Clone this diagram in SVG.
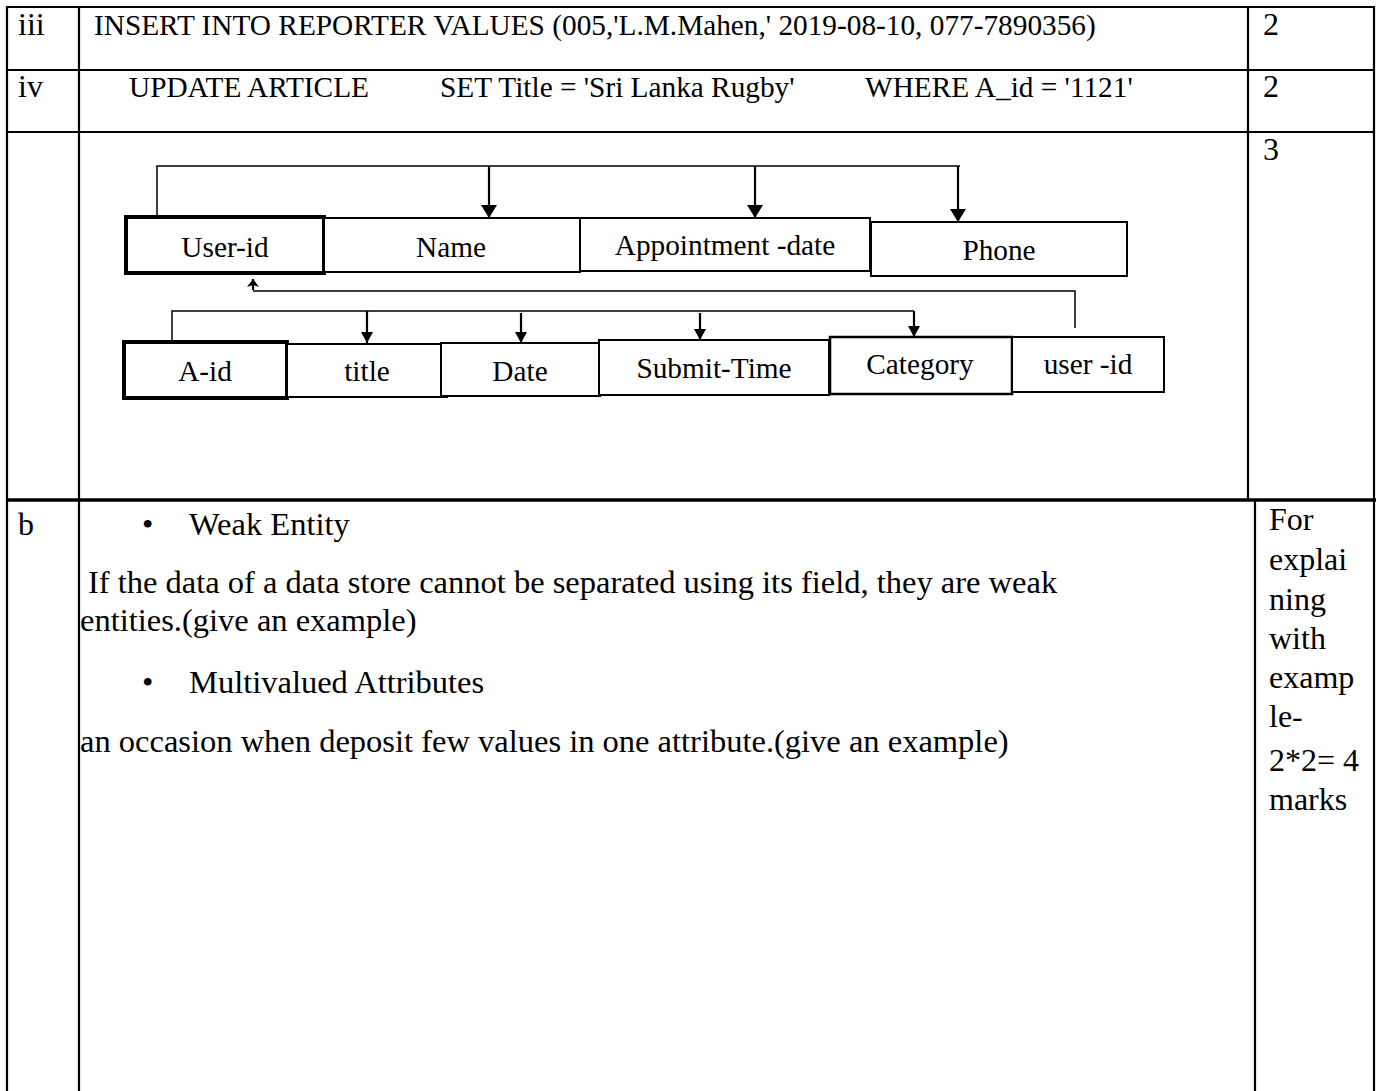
<svg xmlns="http://www.w3.org/2000/svg" width="1377" height="1091" viewBox="0 0 1377 1091">
<style>
text { font-family: "Liberation Serif", "Times New Roman", serif; fill: #000; }
.s11 { font-size: 29.3px; }
.s12 { font-size: 32px; }
.body { font-size: 32.5px; }
.grid { stroke: #000; stroke-width: 2.2; fill: none; }
.thick { stroke: #000; stroke-width: 3.5; fill: none; }
.box { fill: #fff; stroke: #000; stroke-width: 2; }
.pk { fill: #fff; stroke: #000; stroke-width: 4; }
.conn { stroke: #000; stroke-width: 1.5; fill: none; }
.arr { stroke: #000; stroke-width: 2.2; fill: none; }
.mid { text-anchor: middle; }
</style>
<defs>
<marker id="ah" viewBox="0 0 13 16" refX="13" refY="8" markerWidth="13" markerHeight="16" markerUnits="userSpaceOnUse" orient="auto">
<path d="M0,0 L13,8 L0,16 Z" fill="#000"/>
</marker>
<marker id="ah2" viewBox="0 0 11 12" refX="11" refY="6" markerWidth="11" markerHeight="12" markerUnits="userSpaceOnUse" orient="auto">
<path d="M0,0 L11,6 L0,12 Z" fill="#000"/>
</marker>
<marker id="ah3" viewBox="0 0 8 12" refX="8" refY="6" markerWidth="8" markerHeight="12" markerUnits="userSpaceOnUse" orient="auto">
<path d="M0,0 L8,6 L0,12 L2,6 Z" fill="#000"/>
</marker>
</defs>

<g id="table">
<line class="grid" x1="6" y1="7" x2="1375" y2="7"/>
<line class="grid" x1="7" y1="70" x2="1374" y2="70"/>
<line class="grid" x1="7" y1="132" x2="1374" y2="132"/>
<line class="thick" x1="6" y1="500" x2="1376" y2="500"/>
<line class="grid" x1="7" y1="6" x2="7" y2="1091"/>
<line class="grid" x1="79" y1="6" x2="79" y2="1091"/>
<line class="grid" x1="1248" y1="6" x2="1248" y2="500"/>
<line class="grid" x1="1255" y1="500" x2="1255" y2="1091"/>
<line class="grid" x1="1374" y1="6" x2="1374" y2="1091"/>
</g>

<g id="row-iii">
<text class="s12" x="18" y="35">iii</text>
<text class="s11" x="94" y="35">INSERT INTO REPORTER VALUES (005,'L.M.Mahen,' 2019-08-10, 077-7890356)</text>
<text class="s12" x="1263" y="35">2</text>
</g>
<g id="row-iv">
<text class="s12" x="18" y="97">iv</text>
<text class="s11" x="129" y="97">UPDATE ARTICLE</text>
<text class="s11" x="440" y="97">SET Title = 'Sri Lanka Rugby'</text>
<text class="s11" x="865" y="97">WHERE A_id = '1121'</text>
<text class="s12" x="1263" y="97">2</text>
</g>
<g id="row-diagram-mark">
<text class="s12" x="1263" y="160">3</text>
</g>

<g id="connectors">
<path class="conn" d="M157,216 V166 H960"/>
<line class="arr" x1="489" y1="166" x2="489" y2="218" marker-end="url(#ah)"/>
<line class="arr" x1="755" y1="166" x2="755" y2="218" marker-end="url(#ah)"/>
<line class="arr" x1="958" y1="166" x2="958" y2="222" marker-end="url(#ah)"/>
<path class="conn" d="M1075,328 V291 H253"/>
<line class="arr" x1="253" y1="290" x2="253" y2="279" marker-end="url(#ah3)"/>
<path class="conn" d="M172,342 V311 H914"/>
<line class="arr" x1="367" y1="311" x2="367" y2="343" marker-end="url(#ah2)"/>
<line class="arr" x1="521" y1="313" x2="521" y2="343" marker-end="url(#ah2)"/>
<line class="arr" x1="700" y1="313" x2="700" y2="340" marker-end="url(#ah2)"/>
<line class="arr" x1="914" y1="311" x2="914" y2="337" marker-end="url(#ah2)"/>
</g>

<g id="user-id">
<rect class="pk" x="126" y="217" width="198" height="56"/>
<text class="s11 mid" x="225" y="257">User-id</text>
</g>
<g id="name">
<rect class="box" x="324" y="218" width="256" height="54"/>
<text class="s11 mid" x="451" y="257">Name</text>
</g>
<g id="appointment-date">
<rect class="box" x="580" y="218" width="290" height="53"/>
<text class="s11 mid" x="725" y="255">Appointment -date</text>
</g>
<g id="phone">
<rect class="box" x="871" y="222" width="256" height="54"/>
<text class="s11 mid" x="999" y="260">Phone</text>
</g>

<g id="a-id">
<rect class="pk" x="124" y="342" width="163" height="56"/>
<text class="s11 mid" x="205" y="381">A-id</text>
</g>
<g id="title">
<rect class="box" x="287" y="344" width="160" height="53"/>
<text class="s11 mid" x="367" y="381">title</text>
</g>
<g id="date">
<rect class="box" x="441" y="343" width="159" height="53"/>
<text class="s11 mid" x="520" y="381">Date</text>
</g>
<g id="submit-time">
<rect class="box" x="599" y="340" width="230" height="55"/>
<text class="s11 mid" x="714" y="378">Submit-Time</text>
</g>
<g id="category">
<rect class="box" x="830" y="337" width="182" height="57" style="stroke-width:2.5"/>
<text class="s11 mid" x="920" y="374">Category</text>
</g>
<g id="user-id-fk">
<rect class="box" x="1012" y="337" width="152" height="55"/>
<text class="s11 mid" x="1088" y="374">user -id</text>
</g>

<g id="row-b">
<text class="s12" x="18" y="535">b</text>
<text class="body" x="142" y="535">•</text>
<text class="body" x="189" y="535">Weak Entity</text>
<text class="body" x="88" y="593">If the data of a data store cannot be separated using its field, they are weak</text>
<text class="body" x="80" y="631">entities.(give an example)</text>
<text class="body" x="142" y="693">•</text>
<text class="body" x="189" y="693">Multivalued Attributes</text>
<text class="body" x="80" y="752">an occasion when deposit few values in one attribute.(give an example)</text>
<text class="s12" x="1269" y="530">For</text>
<text class="s12" x="1269" y="570">explai</text>
<text class="s12" x="1269" y="610">ning</text>
<text class="s12" x="1269" y="649">with</text>
<text class="s12" x="1269" y="688">examp</text>
<text class="s12" x="1269" y="727">le-</text>
<text class="s12" x="1269" y="771">2*2= 4</text>
<text class="s12" x="1269" y="810">marks</text>
</g>
</svg>
